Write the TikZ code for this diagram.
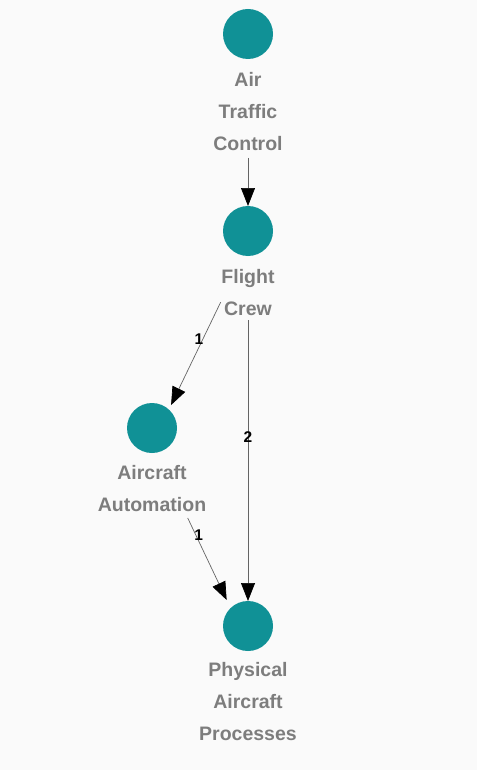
\documentclass[tikz,border=0pt]{standalone}
\usepackage{fontspec}
\setmainfont{Liberation Sans}
\usetikzlibrary{arrows.meta}
\definecolor{bgc}{RGB}{250,250,250}
\definecolor{vtx}{RGB}{16,145,150}
\definecolor{lbl}{RGB}{125,125,125}
\definecolor{edg}{RGB}{100,100,100}
\begin{document}
\begin{tikzpicture}[x=1pt,y=-1pt,
 vert/.style={circle,fill=vtx,minimum size=50pt,inner sep=0pt,outer sep=0pt},
 vlabel/.style={font=\fontsize{19.5}{32}\selectfont\bfseries,text=lbl,align=center,inner sep=0pt},
 edgeline/.style={draw=edg,line width=0.7pt,-{Triangle[length=18pt,width=14pt,color=black,fill=black]}},
 elabel/.style={font=\fontsize{15.5}{15.5}\selectfont\bfseries,text=black,inner sep=0pt}]
\fill[bgc] (0,0) rectangle (477,770);
\useasboundingbox (0,0) rectangle (477,770);
\node[vert] (atc) at (248,34) {};
\node[vert] (fc) at (248,231) {};
\node[vert] (aa) at (152,428) {};
\node[vert] (pap) at (248,626) {};
\node[vlabel] (atcl) at (248,112) {Air\\Traffic\\Control};
\node[vlabel] (fcl) at (248,293) {Flight\\Crew};
\node[vlabel] (aal) at (152,489) {Aircraft\\Automation};
\node[vlabel] (papl) at (248,702) {Physical\\Aircraft\\Processes};
\draw[edgeline,shorten <=99pt] (atc) -- (fc);
\draw[edgeline,shorten <=79pt,shorten >=25.5pt] ([xshift=7pt]fc.center) -- node[elabel,pos=0.548,xshift=-4pt] (e1) {1} ([xshift=8pt]aa.center);
\draw[edgeline,shorten <=64pt] (fc) -- node[elabel,pos=0.525] (e2) {2} (pap);
\draw[edgeline,shorten <=99.6pt,shorten >=28.8pt] ([xshift=-7pt]aa.center) -- node[elabel,pos=0.54,xshift=3pt] (e3) {1} ([xshift=-9pt]pap.center);
\end{tikzpicture}
\end{document}
